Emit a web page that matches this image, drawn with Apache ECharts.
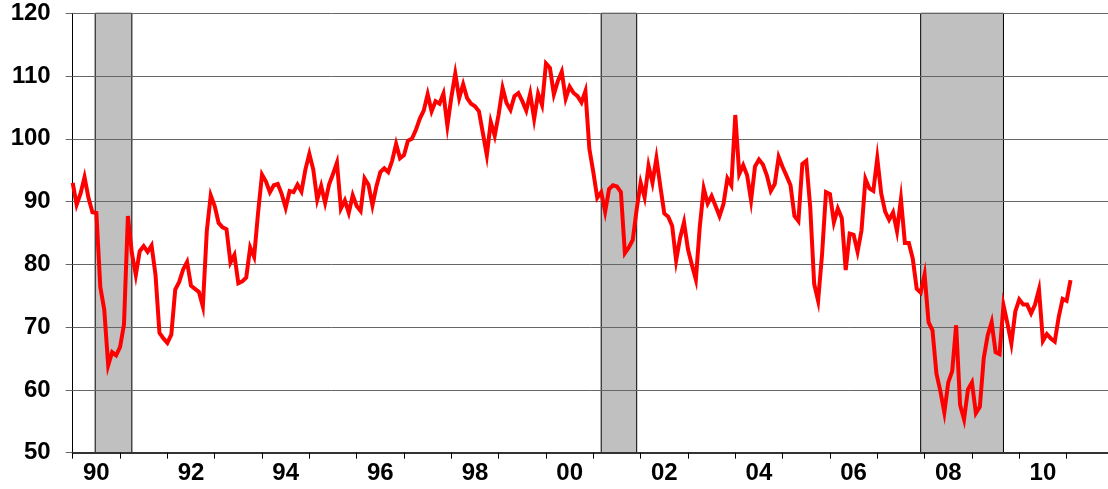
<!DOCTYPE html>
<html>
<head>
<meta charset="utf-8">
<script src="https://cdn.jsdelivr.net/npm/echarts@6/dist/echarts.min.js"></script>
<style>
  html, body { margin: 0; padding: 0; background: #fff; }
  #chart { width: 1108px; height: 489px; }
</style>
</head>
<body>
<div id="chart"></div>
<script>
// monthly index, Jan 1990 .. Feb 2011
const startYear = 1990;
const sentiment = [
  93.0, 89.5, 91.3, 93.9, 90.6, 88.3, 88.2, 76.4, 72.8, 63.9, 66.0, 65.5,   // 1990
  66.8, 70.4, 87.7, 81.8, 78.3, 82.1, 82.9, 82.0, 83.0, 78.3, 69.1, 68.2,   // 1991
  67.5, 68.8, 76.0, 77.2, 79.2, 80.4, 76.6, 76.1, 75.6, 73.3, 85.3, 91.0,   // 1992
  89.3, 86.6, 85.9, 85.6, 80.3, 81.5, 77.0, 77.3, 77.9, 82.7, 81.2, 88.2,   // 1993
  94.3, 93.2, 91.5, 92.6, 92.8, 91.2, 89.0, 91.7, 91.5, 92.7, 91.6, 95.1,   // 1994
  97.6, 95.1, 90.3, 92.5, 89.8, 92.7, 94.4, 96.2, 88.9, 90.2, 88.2, 91.0,   // 1995
  89.3, 88.5, 93.7, 92.7, 89.4, 92.4, 94.7, 95.3, 94.7, 96.5, 99.2, 96.9,   // 1996
  97.4, 99.7, 100.0, 101.4, 103.2, 104.5, 107.1, 104.4, 106.0, 105.6, 107.2, 102.1, // 1997
  106.6, 110.4, 106.5, 108.7, 106.5, 105.6, 105.2, 104.4, 100.9, 97.4, 102.7, 100.5, // 1998
  103.9, 108.1, 105.7, 104.6, 106.8, 107.3, 106.0, 104.5, 107.2, 103.2, 107.2, 105.4, // 1999
  112.0, 111.3, 107.1, 109.2, 110.7, 106.4, 108.3, 107.3, 106.8, 105.8, 107.6, 98.4,  // 2000
  94.7, 90.6, 91.5, 88.4, 92.0, 92.6, 92.4, 91.5, 81.8, 82.7, 83.9, 88.8,   // 2001
  93.0, 90.7, 95.7, 93.0, 96.9, 92.4, 88.1, 87.6, 86.1, 80.6, 84.2, 86.7,   // 2002
  82.4, 79.9, 77.6, 86.0, 92.1, 89.7, 90.9, 89.3, 87.7, 89.6, 93.7, 92.6,   // 2003
  103.8, 94.4, 95.8, 94.2, 90.2, 95.6, 96.7, 95.9, 94.2, 91.7, 92.8, 97.1,  // 2004
  95.5, 94.1, 92.6, 87.7, 86.9, 96.0, 96.5, 89.1, 76.9, 74.2, 81.6, 91.5,   // 2005
  91.2, 86.7, 88.9, 87.4, 79.1, 84.9, 84.7, 82.0, 85.4, 93.6, 92.1, 91.7,   // 2006
  96.9, 91.3, 88.4, 87.1, 88.3, 85.3, 90.4, 83.4, 83.4, 80.9, 76.1, 75.5,   // 2007
  78.4, 70.8, 69.5, 62.6, 59.8, 56.4, 61.2, 63.0, 70.3, 57.6, 55.3, 60.1,   // 2008
  61.2, 56.3, 57.3, 65.1, 68.7, 70.8, 66.0, 65.7, 73.5, 70.6, 67.4, 72.5,   // 2009
  74.4, 73.6, 73.6, 72.2, 73.6, 76.0, 67.8, 68.9, 68.2, 67.7, 71.6, 74.5,   // 2010
  74.2, 77.5                                                                 // 2011
];
// shaded periods, in months from Jan 1990
const recessions = [[5.7, 15], [134, 143], [215, 236]];
const tickLabels = ['90', '92', '94', '96', '98', '00', '02', '04', '06', '08', '10'];

const labelFont = { fontFamily: 'Liberation Sans, Arial, sans-serif', fontWeight: 'bold', fontSize: 24, color: '#000' };

let yearTicks = [];
for (let m = 0; m <= 252; m += 12) yearTicks.push(m);
let labelPos = tickLabels.map((t, i) => 6 + i * 24);

const chart = echarts.init(document.getElementById('chart'));
chart.setOption({
  animation: false,
  grid: { left: 72.7, right: 0, top: 13.3, bottom: 36.3 },
  xAxis: {
    type: 'value', min: 0, max: 262.5, z: 2,
    axisLine: { show: true, lineStyle: { color: '#333', width: 2 } },
    axisTick: { show: true, customValues: yearTicks, length: 6, lineStyle: { color: '#000', width: 1 } },
    axisLabel: Object.assign({
      customValues: labelPos, margin: 9,
      formatter: v => tickLabels[Math.round((v - 6) / 24)] || ''
    }, labelFont),
    splitLine: { show: false }
  },
  yAxis: {
    type: 'value', min: 50, max: 120, interval: 10, z: 2,
    axisLine: { show: true, lineStyle: { color: '#000', width: 1 } },
    axisTick: { show: true, length: 7, lineStyle: { color: '#666', width: 1 } },
    axisLabel: Object.assign({ margin: 22 }, labelFont),
    splitLine: { show: true, lineStyle: { color: '#666', width: 1 } }
  },
  series: [
    {
      type: 'line', z: 1, data: [], silent: true,
      markArea: {
        silent: true, z: 1,
        itemStyle: { color: '#c0c0c0', borderColor: '#000', borderWidth: 1 },
        data: recessions.map(r => [{ xAxis: r[0], yAxis: 50 }, { xAxis: r[1], yAxis: 120 }])
      }
    },
    {
      type: 'line', z: 3, showSymbol: false,
      data: sentiment.map((v, i) => [i, v]),
      lineStyle: { color: '#ff0000', width: 4, join: 'miter' },
      itemStyle: { color: '#ff0000' }
    }
  ]
});
</script>
</body>
</html>
